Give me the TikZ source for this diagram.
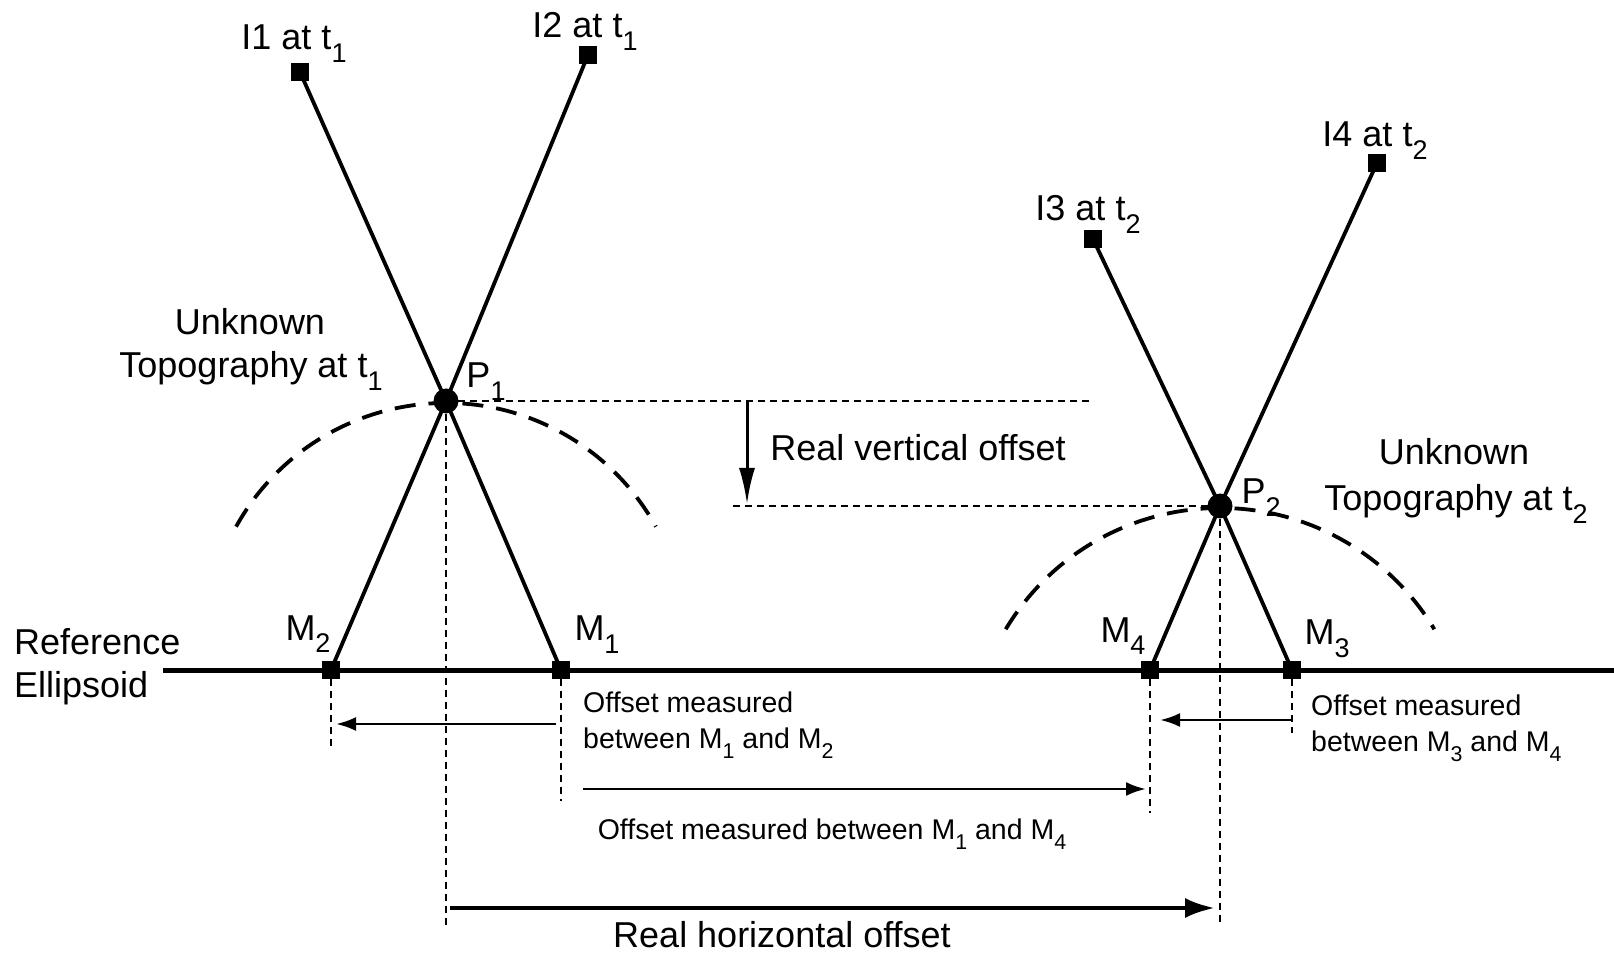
\documentclass[tikz,border=0pt]{standalone}
\usepackage{fontspec}
\usepackage{graphicx}
\setmainfont{Liberation Sans}
\usetikzlibrary{arrows.meta}
\newcommand{\lsub}[1]{\raisebox{-0.36em}{\scalebox{0.75}{#1}}}
\tikzset{
  sq/.style={fill=black,rectangle,minimum size=18pt,inner sep=0pt},
  pdot/.style={fill=black,circle,minimum size=25pt,inner sep=0pt},
  ray/.style={line width=3.8pt},
  guide/.style={line width=1.5pt,dash pattern=on 7pt off 5pt},
  topo/.style={line width=3.8pt,dash pattern=on 21pt off 13pt},
  marrow/.style={line width=2.8pt,-{Latex[length=20pt,width=14pt]}},
  harrow/.style={line width=4.5pt,-{Latex[length=30pt,width=20pt]}},
  varrow/.style={line width=3pt,-{Latex[length=36pt,width=16pt]}},
  big/.style={font=\fontsize{36}{43}\selectfont,inner sep=0pt},
  small/.style={font=\fontsize{28.5}{35}\selectfont,inner sep=0pt},
}
\begin{document}
\begin{tikzpicture}[x=1pt,y=1pt]
\useasboundingbox (0,0) rectangle (1614,954);
% points
\node[sq] (I1) at (300,882) {};
\node[sq] (I2) at (588,899) {};
\node[sq] (I3) at (1093,715) {};
\node[sq] (I4) at (1377,791) {};
\node[pdot] (P1) at (446,553) {};
\node[pdot] (P2) at (1220,448) {};
\node[sq] (M2) at (331,284) {};
\node[sq] (M1) at (561,284) {};
\node[sq] (M4) at (1150,284) {};
\node[sq] (M3) at (1292,284) {};
% reference ellipsoid
\coordinate (RL) at (163,284);
\coordinate (RR) at (1614,284);
\draw[line width=5pt] (RL) -- (RR);
% rays
\draw[ray] (I1.center) -- (P1.center) -- (M1.center);
\draw[ray] (I2.center) -- (P1.center) -- (M2.center);
\draw[ray] (I3.center) -- (P2.center) -- (M3.center);
\draw[ray] (I4.center) -- (P2.center) -- (M4.center);
% topography arcs
\coordinate (C1) at (446,311);
\coordinate (C2) at (1220,196);
\draw[topo] (C1) ++(151:240) arc[start angle=151,end angle=29,radius=240];
\draw[topo] (C2) ++(149:250) arc[start angle=149,end angle=31,radius=250];
% horizontal guides and vertical offset
\coordinate (H1) at (1093,553);
\coordinate (H2) at (733,448);
\draw[guide] (P1.center) -- (H1);
\draw[guide] (H2) -- (P2.center);
\coordinate (VA) at (747,553);
\coordinate (VB) at (747,450);
\draw[varrow] (VA) -- (VB);
% vertical guides
\coordinate (g2) at (331,208);
\coordinate (g1) at (561,153);
\coordinate (g4) at (1150,141);
\coordinate (g3) at (1292,221);
\coordinate (gp1) at (446,28);
\coordinate (gp2) at (1220,28);
\draw[guide] (M2) -- (g2);
\draw[guide] (M1) -- (g1);
\draw[guide] (M4) -- (g4);
\draw[guide] (M3) -- (g3);
\draw[guide] (P1) -- (gp1);
\draw[guide] (P2) -- (gp2);
% offset arrows
\coordinate (a1s) at (556,230);
\coordinate (a1e) at (336,230);
\coordinate (a2s) at (1291,234);
\coordinate (a2e) at (1160,234);
\coordinate (a3s) at (583,165);
\coordinate (a3e) at (1146,165);
\coordinate (a4s) at (450,46);
\coordinate (a4e) at (1215,46);
\draw[marrow] (a1s) -- (a1e);
\draw[marrow] (a2s) -- (a2e);
\draw[marrow] (a3s) -- (a3e);
\draw[harrow] (a4s) -- (a4e);
% labels
\node[big,anchor=base] (tI1) at (294,904) {I1 at t\lsub{1}};
\node[big,anchor=base] (tI2) at (585,916) {I2 at t\lsub{1}};
\node[big,anchor=base] (tI3) at (1088,733) {I3 at t\lsub{2}};
\node[big,anchor=base] (tI4) at (1375,807) {I4 at t\lsub{2}};
\node[big,anchor=base] (tP1) at (486,566) {P\lsub{1}};
\node[big,anchor=base] (tP2) at (1261,450) {P\lsub{2}};
\node[big,anchor=base] (tM2) at (308,314) {M\lsub{2}};
\node[big,anchor=base] (tM1) at (597,313) {M\lsub{1}};
\node[big,anchor=base] (tM4) at (1123,312) {M\lsub{4}};
\node[big,anchor=base] (tM3) at (1327,309) {M\lsub{3}};
\node[big,anchor=base] (tU1a) at (250,619) {Unknown};
\node[big,anchor=base] (tU1b) at (251,576) {Topography at t\lsub{1}};
\node[big,anchor=base] (tU2a) at (1454,489) {Unknown};
\node[big,anchor=base] (tU2b) at (1456,443) {Topography at t\lsub{2}};
\node[big,anchor=base west] (tRa) at (14,300) {Reference};
\node[big,anchor=base west] (tRb) at (14,257) {Ellipsoid};
\node[big,anchor=base] (tRV) at (918,493) {Real vertical offset};
\node[big,anchor=base] (tRH) at (782,7) {Real horizontal offset};
\node[small,anchor=base west] (tO1a) at (583,242) {Offset measured};
\node[small,anchor=base west] (tO1b) at (583,206) {between M\lsub{1} and M\lsub{2}};
\node[small,anchor=base west] (tO2a) at (1311,239) {Offset measured};
\node[small,anchor=base west] (tO2b) at (1311,203) {between M\lsub{3} and M\lsub{4}};
\node[small,anchor=base] (tO3) at (832,115) {Offset measured between M\lsub{1} and M\lsub{4}};
\end{tikzpicture}
\end{document}
